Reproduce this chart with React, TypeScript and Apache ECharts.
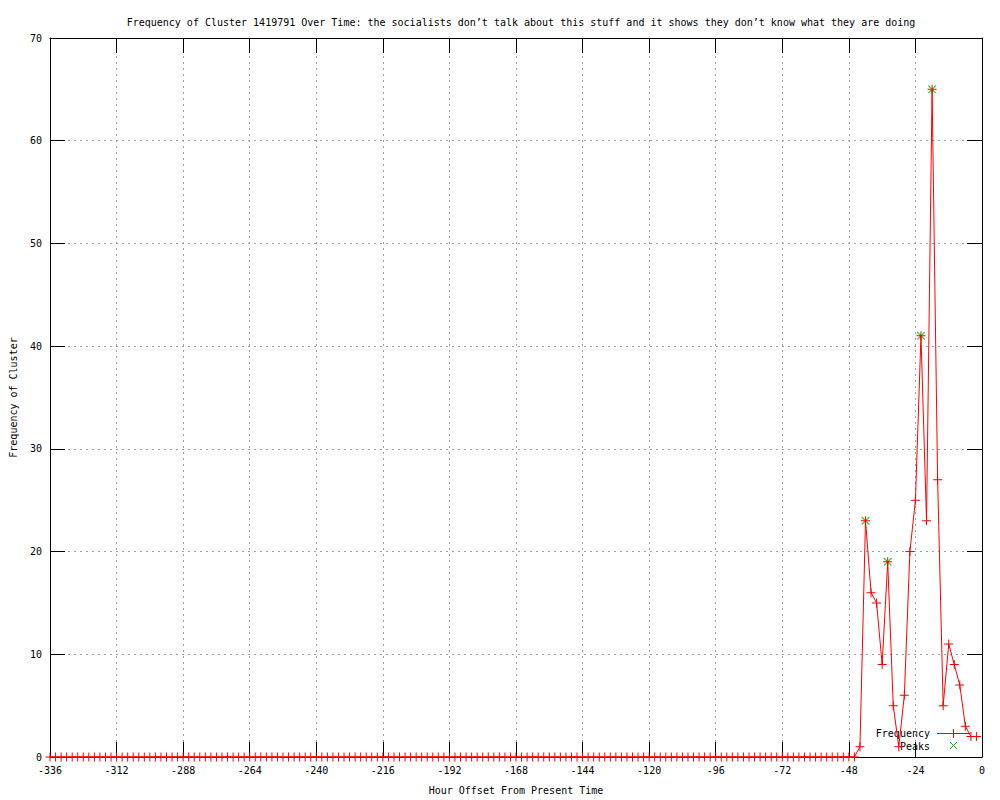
import React, { useEffect, useRef } from "react";
import * as echarts from "echarts";

const TITLE =
  "Frequency of Cluster 1419791 Over Time: the socialists don\u2019t talk about this stuff and it shows they don\u2019t know what they are doing";
const X_NAME = "Hour Offset From Present Time";
const Y_NAME = "Frequency of Cluster";

const HOURS = [
  -336, -334, -332, -330, -328, -326, -324, -322, -320, -318, -316, -314,
  -312, -310, -308, -306, -304, -302, -300, -298, -296, -294, -292, -290,
  -288, -286, -284, -282, -280, -278, -276, -274, -272, -270, -268, -266,
  -264, -262, -260, -258, -256, -254, -252, -250, -248, -246, -244, -242,
  -240, -238, -236, -234, -232, -230, -228, -226, -224, -222, -220, -218,
  -216, -214, -212, -210, -208, -206, -204, -202, -200, -198, -196, -194,
  -192, -190, -188, -186, -184, -182, -180, -178, -176, -174, -172, -170,
  -168, -166, -164, -162, -160, -158, -156, -154, -152, -150, -148, -146,
  -144, -142, -140, -138, -136, -134, -132, -130, -128, -126, -124, -122,
  -120, -118, -116, -114, -112, -110, -108, -106, -104, -102, -100, -98,
  -96, -94, -92, -90, -88, -86, -84, -82, -80, -78, -76, -74,
  -72, -70, -68, -66, -64, -62, -60, -58, -56, -54, -52, -50,
  -48, -46, -44, -42, -40, -38, -36, -34, -32, -30, -28, -26,
  -24, -22, -20, -18, -16, -14, -12, -10, -8, -6, -4, -2,
];

const FREQUENCY = [
  0, 0, 0, 0, 0, 0, 0, 0, 0, 0, 0, 0,
  0, 0, 0, 0, 0, 0, 0, 0, 0, 0, 0, 0,
  0, 0, 0, 0, 0, 0, 0, 0, 0, 0, 0, 0,
  0, 0, 0, 0, 0, 0, 0, 0, 0, 0, 0, 0,
  0, 0, 0, 0, 0, 0, 0, 0, 0, 0, 0, 0,
  0, 0, 0, 0, 0, 0, 0, 0, 0, 0, 0, 0,
  0, 0, 0, 0, 0, 0, 0, 0, 0, 0, 0, 0,
  0, 0, 0, 0, 0, 0, 0, 0, 0, 0, 0, 0,
  0, 0, 0, 0, 0, 0, 0, 0, 0, 0, 0, 0,
  0, 0, 0, 0, 0, 0, 0, 0, 0, 0, 0, 0,
  0, 0, 0, 0, 0, 0, 0, 0, 0, 0, 0, 0,
  0, 0, 0, 0, 0, 0, 0, 0, 0, 0, 0, 0,
  0, 0, 1, 23, 16, 15, 9, 19, 5, 1, 6, 20,
  25, 41, 23, 65, 27, 5, 11, 9, 7, 3, 2, 2,
];

const PEAK_HOURS = [-42, -34, -22, -18];
const PEAK_VALUES = [23, 19, 41, 65];

const X_MIN = -336;
const X_MAX = 0;
const X_STEP = 24;
const Y_MIN = 0;
const Y_MAX = 70;
const Y_STEP = 10;

const FONT = "DejaVu Sans Mono";
const RED = "#ff0000";
const GREEN = "#00c000";
const GRID_GRAY = "#a0a0a0";

const PLUS = "path://M4,0H5V4H9V5H5V9H4V5H0V4H4Z";
const CROSS =
  "path://M0,0L1,0L4.5,3.5L8,0L9,0L9,1L5.5,4.5L9,8L9,9L8,9L4.5,5.5L1,9L0,9L0,8L3.5,4.5L0,1Z";

export default function App() {
  const ref = useRef<HTMLDivElement>(null);

  useEffect(() => {
    if (!ref.current) return;
    const chart = echarts.init(ref.current, undefined, { renderer: "svg" });

    const textStyle = { fontFamily: FONT, fontSize: 10, color: "#000" };
    const axisLine = { show: true, onZero: false, lineStyle: { color: "#000", width: 1 } };
    const tick = { show: true, inside: true, length: 15, lineStyle: { color: "#000", width: 1 } };
    const split = { show: true, lineStyle: { color: GRID_GRAY, width: 1, type: [2, 4] } };

    chart.setOption({
      animation: false,
      backgroundColor: "#fff",
      title: {
        text: TITLE,
        left: 516,
        top: 12,
        textAlign: "center",
        textStyle: { ...textStyle, fontWeight: "normal" },
      },
      grid: { left: 50, top: 38, right: 18, bottom: 40, containLabel: false },
      xAxis: [
        {
          type: "value",
          position: "bottom",
          min: X_MIN,
          max: X_MAX,
          interval: X_STEP,
          axisLine,
          axisTick: tick,
          axisLabel: { ...textStyle, margin: 8 },
          splitLine: split,
          name: X_NAME,
          nameLocation: "middle",
          nameGap: 28,
          nameTextStyle: textStyle,
        },
        {
          type: "value",
          position: "top",
          min: X_MIN,
          max: X_MAX,
          interval: X_STEP,
          axisLine,
          axisTick: tick,
          axisLabel: { show: false },
          splitLine: { show: false },
        },
      ],
      yAxis: [
        {
          type: "value",
          position: "left",
          min: Y_MIN,
          max: Y_MAX,
          interval: Y_STEP,
          axisLine,
          axisTick: tick,
          axisLabel: { ...textStyle, margin: 8 },
          splitLine: split,
          name: Y_NAME,
          nameLocation: "middle",
          nameGap: 32,
          nameTextStyle: textStyle,
        },
        {
          type: "value",
          position: "right",
          min: Y_MIN,
          max: Y_MAX,
          interval: Y_STEP,
          axisLine,
          axisTick: tick,
          axisLabel: { show: false },
          splitLine: { show: false },
        },
      ],
      series: [
        {
          name: "Frequency",
          type: "line",
          xAxisIndex: 0,
          yAxisIndex: 0,
          data: HOURS.map((h, i) => [h, FREQUENCY[i]]),
          lineStyle: { color: RED, width: 1 },
          itemStyle: { color: RED },
          symbol: PLUS,
          symbolSize: 9,
          showSymbol: true,
          showAllSymbol: true,
          clip: false,
          z: 3,
        },
        {
          name: "Peaks",
          type: "scatter",
          xAxisIndex: 0,
          yAxisIndex: 0,
          data: PEAK_HOURS.map((h, i) => [h, PEAK_VALUES[i]]),
          itemStyle: { color: GREEN },
          symbol: CROSS,
          symbolSize: 8,
          z: 2,
        },
      ],
      graphic: [
        {
          type: "text",
          x: 930,
          y: 733,
          style: { text: "Frequency", fill: "#000", align: "right", verticalAlign: "middle", font: `10px "${FONT}"` },
        },
        {
          type: "line",
          shape: { x1: 937, y1: 733.5, x2: 970, y2: 733.5 },
          style: { stroke: RED, lineWidth: 1 },
        },
        {
          type: "line",
          shape: { x1: 949, y1: 733.5, x2: 958, y2: 733.5 },
          style: { stroke: RED, lineWidth: 1 },
        },
        {
          type: "line",
          shape: { x1: 953.5, y1: 729, x2: 953.5, y2: 738 },
          style: { stroke: RED, lineWidth: 1 },
        },
        {
          type: "text",
          x: 930,
          y: 746,
          style: { text: "Peaks", fill: "#000", align: "right", verticalAlign: "middle", font: `10px "${FONT}"` },
        },
        {
          type: "line",
          shape: { x1: 950, y1: 742, x2: 957, y2: 749 },
          style: { stroke: GREEN, lineWidth: 1 },
        },
        {
          type: "line",
          shape: { x1: 957, y1: 742, x2: 950, y2: 749 },
          style: { stroke: GREEN, lineWidth: 1 },
        },
      ],
    });

    return () => chart.dispose();
  }, []);

  return (
    <div
      ref={ref}
      style={{ position: "absolute", left: 0, top: 0, width: 1000, height: 800, background: "#fff" }}
    />
  );
}
